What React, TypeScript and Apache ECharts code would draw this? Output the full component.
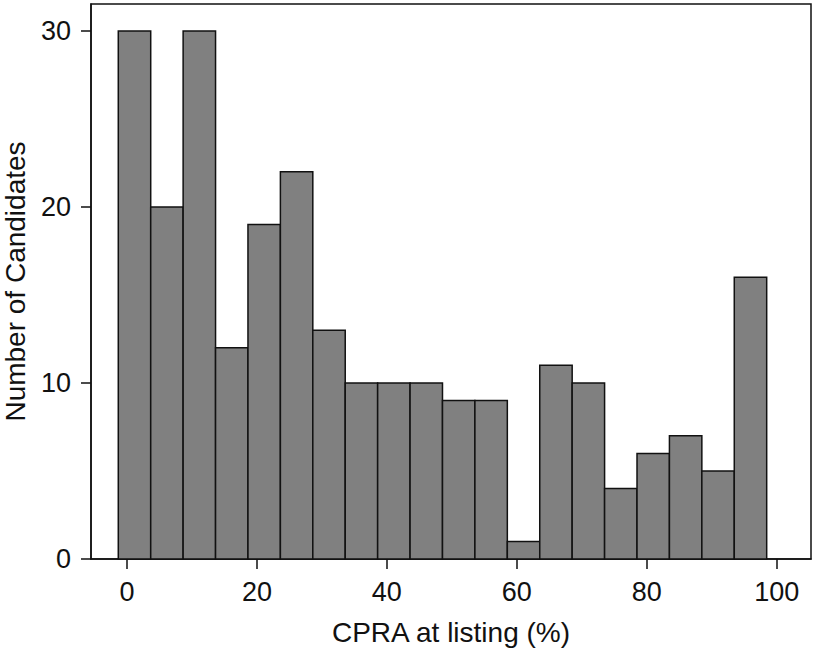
import React, { useEffect, useRef } from "react";
import * as echarts from "echarts";

const binStart = -1.34;
const binWidth = 4.99;
const counts = [30, 20, 30, 12, 19, 22, 13, 10, 10, 10, 9, 9, 1, 11, 10, 4, 6, 7, 5, 16];
const xTicks = [0, 20, 40, 60, 80, 100];
const yTicks = [0, 10, 20, 30];
const xTitle = "CPRA at listing (%)";
const yTitle = "Number of Candidates";

export default function App() {
  const ref = useRef<HTMLDivElement>(null);
  useEffect(() => {
    if (!ref.current) return;
    const chart = echarts.init(ref.current, null, { renderer: "svg" });
    const data = counts.map((c, i) => [binStart + i * binWidth, binStart + (i + 1) * binWidth, c]);
    const font = "'Liberation Sans', Arial, Helvetica, sans-serif";
    chart.setOption({
      animation: false,
      backgroundColor: "#ffffff",
      grid: {
        left: 91,
        right: 4,
        top: 4,
        bottom: 91,
        containLabel: false,
        outerBoundsMode: "none",
        show: true,
        borderColor: "#111",
        borderWidth: 1.5,
        backgroundColor: "transparent",
      },
      xAxis: {
        type: "value",
        min: -5.54,
        max: 105.28,
        name: xTitle,
        nameLocation: "middle",
        nameGap: 59,
        nameTextStyle: { fontFamily: font, fontSize: 28, color: "#111" },
        axisLine: { show: true, onZero: false, lineStyle: { color: "#111", width: 1.5 } },
        axisTick: { show: true, inside: false, length: 10, customValues: xTicks, lineStyle: { color: "#111", width: 1.5 } },
        axisLabel: { customValues: xTicks, margin: 19, fontFamily: font, fontSize: 27, color: "#111" },
        splitLine: { show: false },
      },
      yAxis: {
        type: "value",
        min: 0,
        max: 31.53,
        name: yTitle,
        nameLocation: "middle",
        nameGap: 62,
        nameRotate: 90,
        nameTextStyle: { fontFamily: font, fontSize: 28, color: "#111" },
        axisLine: { show: true, onZero: false, lineStyle: { color: "#111", width: 1.5 } },
        axisTick: { show: true, inside: false, length: 10, customValues: yTicks, lineStyle: { color: "#111", width: 1.5 } },
        axisLabel: { customValues: yTicks, margin: 20, fontFamily: font, fontSize: 27, color: "#111" },
        splitLine: { show: false },
      },
      series: [
        {
          type: "custom",
          data,
          encode: { x: [0, 1], y: 2 },
          renderItem: (params: any, api: any) => {
            const p0 = api.coord([api.value(0), api.value(2)]);
            const p1 = api.coord([api.value(1), 0]);
            return {
              type: "rect",
              shape: { x: p0[0], y: p0[1], width: p1[0] - p0[0], height: p1[1] - p0[1] },
              style: { fill: "#808080", stroke: "#111", lineWidth: 1.5 },
            };
          },
        },
      ],
    });
    return () => chart.dispose();
  }, []);
  return (
    <div
      ref={ref}
      style={{ position: "fixed", left: 0, top: 0, width: 815, height: 650 }}
    />
  );
}
